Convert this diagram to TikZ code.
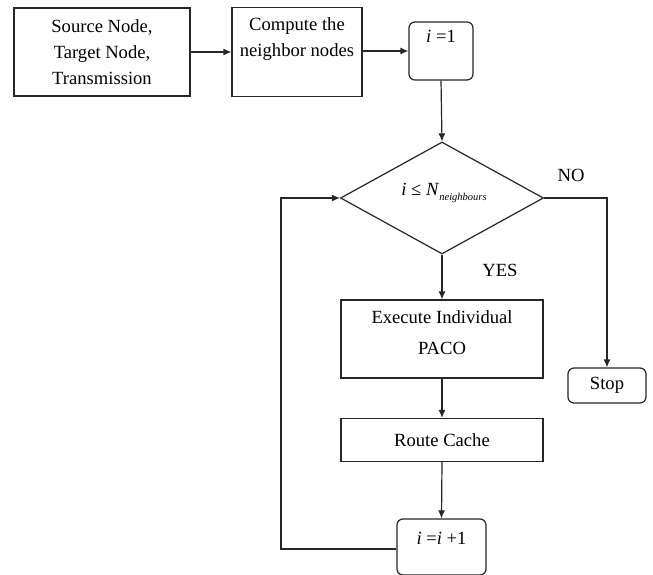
\documentclass[tikz,border=0pt]{standalone}
\usepackage{fontspec}
\setmainfont{Liberation Serif}
\usetikzlibrary{shapes.geometric,arrows.meta}
\begin{document}
\begin{tikzpicture}[x=1pt,y=-1pt,
  every node/.style={font=\fontsize{18.6}{26}\selectfont},
  box/.style={draw=black!85, line width=1.2pt, inner sep=0pt, align=center},
  rbox/.style={box, rounded corners=6pt},
  cond/.style={draw=black!85, line width=1.2pt, diamond, inner sep=0pt, aspect=1.81,
     minimum width=203pt, minimum height=112pt},
  txt/.style={inner sep=0pt, align=center},
  conn/.style={draw=black!85, line width=1.2pt, -{Latex[length=8pt,width=7pt]}}]
\useasboundingbox (0,0) rectangle (653,575);
\fill[white] (0,0) rectangle (653,575);

\node[box, minimum width=176pt, minimum height=88pt] (src) at (102,52)
  {Source Node,\\Target Node,\\Transmission};
\node[box, minimum width=130pt, minimum height=89pt] (nbr) at (297,52) {};
\node[txt] (nbrtxt) at (297,39) {Compute the\\neighbor nodes};
\node[rbox, minimum width=64pt, minimum height=58pt] (init) at (441,51) {};
\node[txt] (inittxt) at (441,36) {\textit{i} =1};

\node[cond] (test) at (442,198) {};
\node[txt] (testtxt) at (444,193)
  {\textit{i} ≤ \textit{N}\raisebox{-5pt}{\fontsize{10.5}{11}\selectfont\textit{neighbours}}};

\node[box, minimum width=202pt, minimum height=78pt] (exec) at (442,339) {};
\node[txt] (exectxt) at (442,333) {Execute Individual\\[5pt]PACO};
\node[box, minimum width=202pt, minimum height=43pt] (cache) at (442,440) {Route Cache};
\node[rbox, minimum width=89pt, minimum height=56pt] (inc) at (441.5,547) {};
\node[txt] (inctxt) at (441.5,538) {\textit{i} =\textit{i} +1};
\node[rbox, minimum width=78pt, minimum height=35pt] (stop) at (607,385.5) {Stop};

\node[txt] (no) at (571,175) {NO};
\node[txt] (yes) at (500,270) {YES};

\coordinate (loopb) at (281,549);
\coordinate (loopt) at (281,198);

\draw[conn] (src.east) -- (nbr.west);
\draw[conn] (nbr.east |- init.west) -- (init.west);
\draw[conn] (init.south) -- (test.north);
\draw[conn] (test.south) -- (exec.north);
\draw[conn] (exec.south) -- (cache.north);
\draw[conn] (cache.south) -- (inc.north);
\draw[conn] (test.east) -| (stop.north);
\draw[conn] (inc.west |- loopb) -- (loopb) -- (loopt) -- (test.west);
\end{tikzpicture}
\end{document}
